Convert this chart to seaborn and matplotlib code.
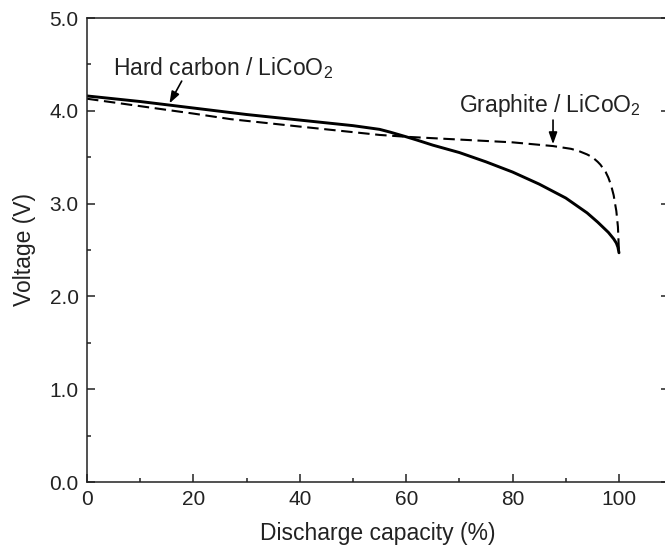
import numpy as np
import pandas as pd
import matplotlib
matplotlib.use('Agg')
import matplotlib.pyplot as plt
import seaborn as sns
from matplotlib.ticker import MultipleLocator

# Discharge curves
hc_cap = [0, 10, 20, 30, 40, 50, 55, 57, 60, 62, 65, 70, 75, 80, 85, 90, 94, 96, 97, 98, 98.5, 99,
          99.5, 99.8, 100]
hc_volt = [4.16, 4.10, 4.03, 3.96, 3.90, 3.84, 3.80, 3.77, 3.72, 3.685, 3.63, 3.55, 3.45, 3.34, 3.21,
           3.06, 2.90, 2.80, 2.745, 2.69, 2.655, 2.62, 2.575, 2.53, 2.47]

gr_cap = [0, 10, 20, 27, 40, 50, 55, 60, 70, 80, 87.6, 91, 92.5, 94, 95, 96, 96.5, 97, 97.5, 98, 98.5,
          99, 99.2, 99.5, 99.8, 100]
gr_volt = [4.13, 4.05, 3.97, 3.91, 3.83, 3.77, 3.74, 3.72, 3.69, 3.66, 3.62, 3.59, 3.565, 3.53, 3.50,
           3.45, 3.42, 3.38, 3.34, 3.28, 3.20, 3.09, 3.02, 2.92, 2.75, 2.47]

x_ticks = [0, 20, 40, 60, 80, 100]
y_ticks = [0.0, 1.0, 2.0, 3.0, 4.0, 5.0]

hc = pd.DataFrame({'cap': hc_cap, 'volt': hc_volt})
gr = pd.DataFrame({'cap': gr_cap, 'volt': gr_volt})

sns.set_style("ticks")
plt.rcParams['font.family'] = ['Liberation Sans', 'DejaVu Sans']
plt.rcParams['mathtext.fontset'] = 'custom'
plt.rcParams['mathtext.rm'] = 'Liberation Sans'
plt.rcParams['mathtext.default'] = 'regular'

fig = plt.figure(figsize=(6.65, 5.5), dpi=100)
ax = fig.add_axes([87 / 665, 68 / 550, 582 / 665, 464 / 550])

sns.lineplot(data=hc, x='cap', y='volt', ax=ax, color='black', linewidth=2.1, sort=False)
sns.lineplot(data=gr, x='cap', y='volt', ax=ax, color='black', linewidth=1.5, sort=False,
             dashes=False, linestyle=(0, (5.5, 2.7)))

ax.set_xlim(0, 109.4)
ax.set_ylim(0, 5)
ax.set_xticks(x_ticks)
ax.set_yticks(y_ticks)
ax.set_yticklabels([f'{v:.1f}' for v in y_ticks])
ax.xaxis.set_minor_locator(MultipleLocator(10))
ax.yaxis.set_minor_locator(MultipleLocator(0.5))

for side in ['left', 'bottom', 'top', 'right']:
    ax.spines[side].set_linewidth(1.1)
    ax.spines[side].set_color('#222222')

ax.tick_params(axis='both', which='major', direction='in', length=6, width=1.1,
               labelsize=15, pad=6, colors='#222222')
ax.tick_params(axis='both', which='minor', direction='in', length=3, width=1.1, colors='#222222')
ax.tick_params(axis='y', which='both', right=True)

ax.set_xlabel('Discharge capacity (%)', fontsize=16.5, labelpad=9, color='#222222')
ax.set_ylabel('Voltage (V)', fontsize=16.5, labelpad=10, color='#222222')

arrow = dict(arrowstyle='-|>,head_length=0.7,head_width=0.25', color='black', lw=1.2,
             shrinkA=0, shrinkB=0)
ax.annotate('', xy=(15.5, 4.08), xytext=(17.8, 4.32), arrowprops=arrow)
ax.text(4.9, 4.39, 'Hard carbon / LiCoO$_2$', fontsize=16.5, va='baseline', color='#222222')
ax.annotate('', xy=(87.6, 3.64), xytext=(87.6, 3.90), arrowprops=arrow)
ax.text(69.9, 3.99, 'Graphite / LiCoO$_2$', fontsize=16.5, va='baseline', color='#222222')

plt.savefig('out.png', dpi=100)
plt.close()
